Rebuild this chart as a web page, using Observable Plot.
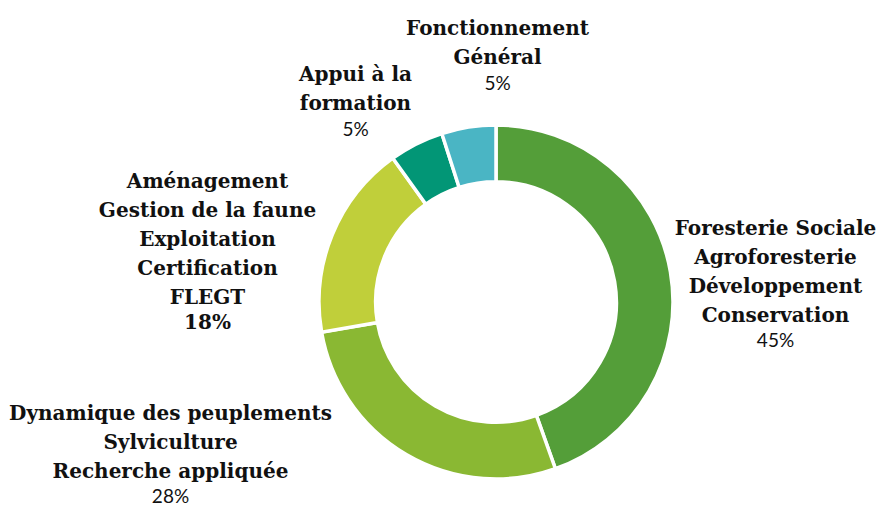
<!DOCTYPE html>
<html><head><meta charset="utf-8">
<script src="https://cdn.jsdelivr.net/npm/d3@7"></script>
<script src="https://cdn.jsdelivr.net/npm/@observablehq/plot@0.6"></script>
<style>body{margin:0;background:#fff}</style>
</head><body><div id="chart"></div>
<script>
const categories = [
  "Foresterie Sociale\nAgroforesterie\nDéveloppement\nConservation",
  "Dynamique des peuplements\nSylviculture\nRecherche appliquée",
  "Aménagement\nGestion de la faune\nExploitation\nCertification\nFLEGT",
  "Appui à la\nformation",
  "Fonctionnement\nGénéral"
];
const shares = [45, 28, 18, 5, 5];
const percentLabels = ["45%", "28%", "18%", "5%", "5%"];
const colors = ["#549E39", "#8AB833", "#C0CF3A", "#029676", "#4AB5C4"];

// layout
const W = 876, H = 506, CX = 496, CY = 302, R = 177, INNER = 0.68, LH = 29;
const labelAt = [[775, 268.5], [170, 439], [207, 236], [355, 86], [497, 40]];

const slices = categories.map((c, i) => {
  const n = c.split("\n").length;
  const lx = (labelAt[i][0] - CX) / R;
  const ly = (CY - labelAt[i][1]) / R;
  return {category: c, share: shares[i], pct: percentLabels[i], color: colors[i],
          lx, ly, py: ly - (((n - 1) / 2) * LH + 28.5) / R, serifPct: i === 2};
});

function donut(index, scales) {
  const cx = scales.x(0), cy = scales.y(0), rad = scales.x(1) - scales.x(0);
  const pie = d3.pie().sort(null).value(d => d.share).startAngle(0).endAngle(2 * Math.PI)(slices);
  const arc = d3.arc().innerRadius(rad * INNER).outerRadius(rad);
  const g = d3.create("svg:g").attr("transform", `translate(${cx},${cy})`);
  g.selectAll("path").data(pie).join("path")
    .attr("d", arc)
    .attr("fill", d => d.data.color)
    .attr("stroke", "white")
    .attr("stroke-width", 3.5)
    .attr("stroke-linejoin", "miter");
  return g.node();
}

const chart = Plot.plot({
  width: W, height: H, margin: 0,
  x: {domain: [-1, 1], range: [CX - R, CX + R], axis: null},
  y: {domain: [-1, 1], range: [CY + R, CY - R], axis: null},
  marks: [
    donut,
    Plot.text(slices, {x: "lx", y: "ly", text: "category", fontFamily: "DejaVu Serif", fontWeight: "bold",
      fontSize: 20, lineHeight: 1.45, lineAnchor: "middle", fill: "#111"}),
    Plot.text(slices.filter(d => !d.serifPct), {x: "lx", y: "py", text: "pct", fontFamily: "Lato",
      fontSize: 19, lineAnchor: "middle", fill: "#111"}),
    Plot.text(slices.filter(d => d.serifPct), {x: "lx", y: "py", text: "pct", fontFamily: "DejaVu Serif", fontWeight: "bold",
      fontSize: 20, lineAnchor: "middle", fill: "#111"})
  ]
});
document.getElementById("chart").append(chart);
</script>
</body></html>
